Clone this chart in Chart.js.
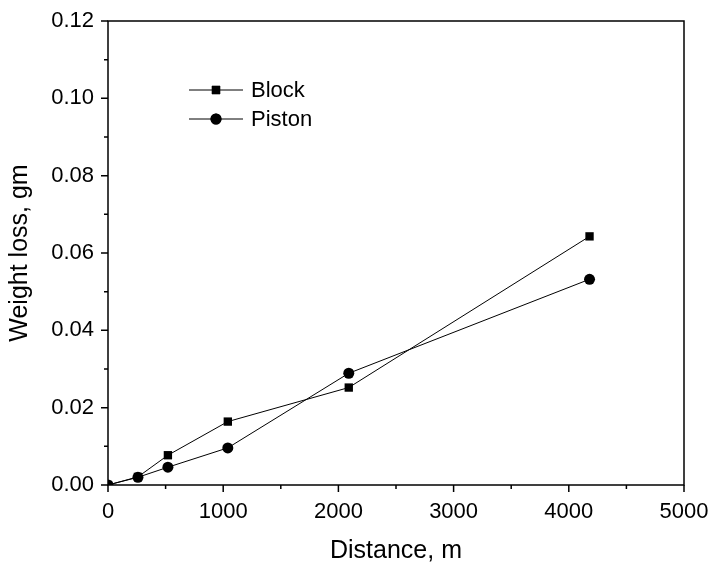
<!DOCTYPE html>
<html>
<head>
<meta charset="utf-8">
<script src="https://cdn.jsdelivr.net/npm/chart.js@4.4.1/dist/chart.umd.min.js"></script>
<style>
body { margin: 0; background: #fff; }
#wrap { width: 713px; height: 566px; }
</style>
</head>
<body>
<div id="wrap"><canvas id="wearChart"></canvas></div>
<script>
// distance (m) and weight loss (gm)
var distance = [0, 260, 520, 1040, 2090, 4180];
var blockLoss = [0, 0.0021, 0.0077, 0.0164, 0.0252, 0.0643];
var pistonLoss = [0, 0.0020, 0.0046, 0.0096, 0.0289, 0.0532];

var xTickLabels = ["0", "1000", "2000", "3000", "4000", "5000"];
var yTickLabels = ["0.00", "0.02", "0.04", "0.06", "0.08", "0.10", "0.12"];

function toPoints(xs, ys) {
    return xs.map(function (x, i) { return { x: x, y: ys[i] }; });
}

Chart.defaults.font.family = "'Liberation Sans', Arial, sans-serif";
Chart.defaults.color = '#000';

// frame + major/minor ticks, like the original plot
var framePlugin = {
    id: 'frame',
    afterDraw: function (chart) {
        var ctx = chart.ctx;
        var a = chart.chartArea;
        var xs = chart.scales.x, ys = chart.scales.y;
        ctx.save();
        ctx.strokeStyle = '#000';
        ctx.lineWidth = 1.5;
        ctx.strokeRect(a.left, a.top, a.right - a.left, a.bottom - a.top);
        ctx.beginPath();
        var v, p, len;
        for (v = 0; v <= 5000; v += 500) {
            p = xs.getPixelForValue(v);
            len = (v % 1000 === 0) ? 7 : 4;
            ctx.moveTo(p, a.bottom);
            ctx.lineTo(p, a.bottom + len);
        }
        for (var i = 0; i <= 12; i++) {
            p = ys.getPixelForValue(i / 100);
            len = (i % 2 === 0) ? 7 : 4;
            ctx.moveTo(a.left, p);
            ctx.lineTo(a.left - len, p);
        }
        ctx.stroke();
        ctx.restore();
    }
};

// legend drawn as line + marker + label, inside plot
var legendPlugin = {
    id: 'lineLegend',
    afterDraw: function (chart) {
        var ctx = chart.ctx;
        ctx.save();
        chart.data.datasets.forEach(function (ds, i) {
            var y = 90 + i * 29;
            ctx.strokeStyle = '#000';
            ctx.lineWidth = 1;
            ctx.beginPath();
            ctx.moveTo(189, y);
            ctx.lineTo(243, y);
            ctx.stroke();
            ctx.fillStyle = '#000';
            Chart.helpers.drawPoint(ctx, { pointStyle: ds.pointStyle, radius: ds.pointRadius, borderWidth: 0 }, 216, y);
            ctx.fill();
            ctx.font = "22px 'Liberation Sans', Arial, sans-serif";
            ctx.textBaseline = 'middle';
            ctx.fillText(ds.label, 251, y + 1);
        });
        ctx.restore();
    }
};

var config = {
    type: 'line',
    data: {
        datasets: [{
            label: 'Block',
            data: toPoints(distance, blockLoss),
            borderColor: '#000',
            borderWidth: 1,
            backgroundColor: '#000',
            pointStyle: 'rect',
            pointRadius: 5.9,
            pointBorderWidth: 0
        }, {
            label: 'Piston',
            data: toPoints(distance, pistonLoss),
            borderColor: '#000',
            borderWidth: 1,
            backgroundColor: '#000',
            pointStyle: 'circle',
            pointRadius: 5.5,
            pointBorderWidth: 0
        }]
    },
    options: {
        maintainAspectRatio: false,
        animation: false,
        layout: { padding: { top: 21, right: 29, left: 0, bottom: 0 } },
        plugins: {
            legend: { display: false },
            tooltip: { enabled: false }
        },
        scales: {
            x: {
                type: 'linear',
                min: 0,
                max: 5000,
                grid: { display: false, drawTicks: true, tickLength: 7 },
                border: { display: false },
                ticks: {
                    stepSize: 1000,
                    padding: 7,
                    maxRotation: 0,
                    font: { size: 22 },
                    callback: function (value, index) { return xTickLabels[index]; }
                },
                title: {
                    display: true,
                    text: 'Distance, m',
                    font: { size: 25 },
                    padding: { top: 0, bottom: 0 }
                },
                afterFit: function (scale) {
                    scale.height = 81;
                    scale.paddingRight = 0;
                    scale.paddingLeft = 0;
                }
            },
            y: {
                min: 0,
                max: 0.12,
                grid: { display: false, drawTicks: true, tickLength: 7 },
                border: { display: false },
                ticks: {
                    stepSize: 0.02,
                    padding: 7,
                    font: { size: 22 },
                    callback: function (value, index) { return yTickLabels[index]; }
                },
                title: {
                    display: true,
                    text: 'Weight loss, gm',
                    font: { size: 25 },
                    padding: { top: 5, bottom: 0 }
                },
                afterFit: function (scale) {
                    scale.width = 108;
                    scale.paddingTop = 0;
                    scale.paddingBottom = 0;
                }
            }
        }
    },
    plugins: [framePlugin, legendPlugin]
};

var wearChart = new Chart(document.getElementById('wearChart'), config);
</script>
</body>
</html>
